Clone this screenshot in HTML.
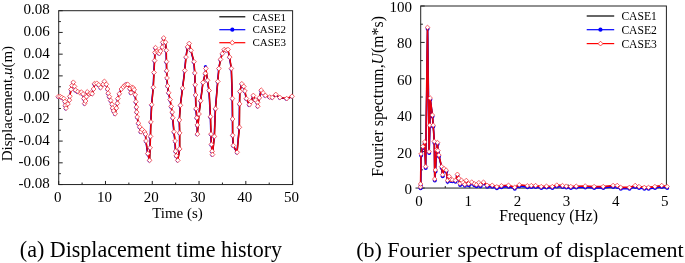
<!DOCTYPE html><html><head><meta charset="utf-8"><title>Figure</title>
<style>html,body{margin:0;padding:0;background:#fff}body{width:685px;height:263px;overflow:hidden}svg{display:block}text{font-family:'Liberation Serif', serif;fill:#000}</style></head><body>
<svg width="685" height="263" viewBox="0 0 685 263">
<rect width="685" height="263" fill="#fff"/>
<g fill="none" stroke="#222" stroke-width="1">
<rect x="58.7" y="10.7" width="233.90000000000003" height="173.85000000000002"/>
<path d="M58.7 10.70h4M58.7 21.57h2.2M58.7 32.43h4M58.7 43.30h2.2M58.7 54.16h4M58.7 65.03h2.2M58.7 75.89h4M58.7 86.76h2.2M58.7 97.63h4M58.7 108.49h2.2M58.7 119.36h4M58.7 130.22h2.2M58.7 141.09h4M58.7 151.95h2.2M58.7 162.82h4M58.7 173.68h2.2M58.7 184.55h4M58.70 184.55v-3.6M82.09 184.55v-2M105.48 184.55v-3.6M128.87 184.55v-2M152.26 184.55v-3.6M175.65 184.55v-2M199.04 184.55v-3.6M222.43 184.55v-2M245.82 184.55v-3.6M269.21 184.55v-2M292.60 184.55v-3.6"/></g>
<g font-size="15" text-anchor="end">
<text x="49.8" y="14.2">0.08</text>
<text x="49.8" y="35.9">0.06</text>
<text x="49.8" y="57.7">0.04</text>
<text x="49.8" y="79.4">0.02</text>
<text x="49.8" y="101.1">0.00</text>
<text x="49.8" y="122.9">-0.02</text>
<text x="49.8" y="144.6">-0.04</text>
<text x="49.8" y="166.3">-0.06</text>
<text x="49.8" y="188.1">-0.08</text>
</g>
<g font-size="15" text-anchor="middle">
<text x="57.7" y="202">0</text>
<text x="104.5" y="202">10</text>
<text x="151.3" y="202">20</text>
<text x="198.0" y="202">30</text>
<text x="244.8" y="202">40</text>
<text x="291.6" y="202">50</text>
<text x="177.5" y="218.3">Time (s)</text>
</g>
<text font-size="15" text-anchor="middle" transform="translate(12.1,103.6) rotate(-90)">Displacement,<tspan font-style="italic">u</tspan>(m)</text>
<polyline fill="none" stroke="#000" stroke-width="1.2" points="58.3,96.9 60.3,96.9 61.8,97.8 63.8,98.9 64.9,101.9 65.3,105.7 66.0,108.5 67.9,104.2 69.4,100.4 69.9,96.6 71.0,89.7 72.0,85.9 73.3,82.6 74.5,86.7 75.5,90.5 77.8,92.0 80.1,93.2 81.5,92.5 83.1,94.3 83.9,98.9 84.7,103.8 85.6,101.3 86.5,97.0 87.3,92.2 89.2,94.3 90.6,93.5 92.2,94.1 93.6,89.3 94.5,84.0 96.8,83.6 98.7,85.2 100.6,87.8 103.1,84.6 104.4,81.7 106.3,84.6 107.5,89.3 108.2,93.5 109.4,97.0 110.7,100.8 112.0,104.6 112.6,108.4 113.6,111.3 115.1,114.1 116.4,108.4 117.4,103.6 117.8,98.9 119.3,94.1 121.4,89.3 123.3,87.3 124.8,85.6 126.3,84.9 127.8,84.7 129.8,88.9 131.0,93.1 132.2,87.6 133.2,88.3 134.2,90.1 135.2,95.1 135.9,102.0 136.4,107.4 136.7,112.4 137.2,117.3 138.4,123.5 139.7,127.2 140.9,132.1 142.1,129.7 144.6,132.2 145.5,134.4 146.0,141.3 147.8,153.8 149.6,160.6 150.1,148.1 150.5,136.7 150.9,122.3 151.7,105.0 153.3,87.6 154.0,72.8 154.6,60.9 155.0,52.8 155.5,48.0 157.1,51.4 158.3,52.7 159.4,53.7 160.5,51.4 162.2,47.4 162.8,42.6 163.7,38.3 165.5,42.5 166.3,50.6 166.5,62.0 166.7,71.1 167.0,78.3 167.6,86.3 168.7,93.1 170.1,99.9 171.2,106.7 172.2,112.4 172.8,118.1 174.0,132.1 175.1,141.3 175.6,151.5 176.3,156.1 177.8,160.6 179.7,149.2 179.7,133.3 179.4,120.3 180.4,105.6 182.6,88.5 184.8,70.8 186.0,57.4 187.6,47.2 189.2,43.8 191.0,50.6 194.0,62.0 194.8,73.3 195.2,85.1 195.6,95.3 196.0,109.0 196.8,118.1 197.3,125.3 197.4,134.4 199.0,114.3 200.7,101.1 203.0,82.8 205.3,73.7 205.9,68.8 207.5,80.6 209.1,90.8 210.5,117.0 211.0,134.4 211.4,144.7 212.1,151.5 212.5,154.9 214.4,136.7 215.5,109.0 217.8,81.7 218.9,68.8 220.5,59.7 222.3,54.0 224.2,49.9 226.1,50.5 228.0,49.9 229.6,57.4 231.4,68.8 232.4,98.8 232.6,119.3 232.7,135.6 233.3,145.8 237.1,152.6 239.4,127.6 239.6,104.2 239.9,91.7 241.8,84.1 243.8,86.7 244.9,91.3 246.4,98.9 249.4,105.0 251.0,101.9 253.3,95.8 255.5,100.4 257.5,102.7 257.8,106.5 259.3,98.1 261.2,90.5 263.1,93.2 265.4,95.8 269.7,97.4 272.3,97.8 275.8,94.8 279.9,97.8 286.7,98.9 292.0,96.6"/>
<polyline fill="none" stroke="#00f" stroke-width="1.2" points="58.0,96.9 60.0,96.9 61.5,97.8 63.5,98.9 64.6,101.9 65.0,105.7 65.7,108.5 67.6,104.2 69.1,100.4 69.6,96.6 70.7,89.7 71.7,85.9 73.0,82.6 74.2,86.7 75.2,90.5 77.5,92.0 79.8,92.2 81.2,92.5 82.8,94.3 83.6,98.9 84.4,103.8 85.3,101.3 86.2,97.0 87.0,92.2 88.9,94.3 90.3,93.5 91.9,94.1 93.3,89.3 94.2,84.0 96.5,83.6 98.4,85.2 100.3,87.8 102.8,84.6 104.1,81.7 106.0,84.6 107.2,89.3 107.9,93.5 109.1,97.0 110.4,100.8 111.7,104.6 112.3,108.4 113.3,111.3 114.8,114.1 116.1,108.4 117.1,103.6 117.5,98.9 119.0,94.1 121.1,89.3 123.0,87.3 124.5,85.6 126.0,83.9 127.5,84.7 129.5,88.9 130.7,93.1 131.9,87.6 132.9,88.3 133.9,90.1 134.9,95.1 135.6,102.0 136.1,107.4 136.4,112.4 136.9,117.3 138.1,123.5 139.4,127.2 140.6,132.1 141.8,129.7 144.3,132.2 145.2,134.4 145.7,141.3 147.5,153.8 149.3,160.6 149.8,148.1 150.2,136.7 150.6,122.3 151.4,105.0 153.0,87.6 153.7,72.8 154.3,60.9 154.7,52.8 155.2,48.0 156.8,51.4 158.0,52.7 159.1,53.7 160.2,51.4 161.9,47.4 162.5,42.6 163.4,38.3 165.2,42.5 166.0,50.6 166.2,62.0 166.4,71.1 166.7,78.3 167.3,86.3 168.4,93.1 169.8,99.9 170.9,106.7 171.9,112.4 172.5,118.1 173.7,132.1 174.8,141.3 175.3,151.5 176.0,156.1 177.5,160.6 179.4,149.2 179.4,133.3 179.1,120.3 180.1,105.6 182.3,88.5 184.5,70.8 185.7,57.4 187.3,47.2 188.9,43.8 190.7,50.6 193.7,62.0 194.5,73.3 194.9,85.1 195.3,95.3 195.7,109.0 196.5,118.1 197.0,125.3 197.1,134.4 198.7,114.3 200.4,101.1 202.7,82.8 205.0,73.7 205.6,66.6 207.2,80.6 208.8,90.8 210.2,117.0 210.7,134.4 211.1,144.7 211.8,151.5 212.2,154.9 214.1,136.7 215.2,109.0 217.5,81.7 218.6,68.8 220.2,59.7 222.0,54.0 223.9,49.9 225.8,50.5 227.7,49.9 229.3,57.4 231.1,68.8 232.1,98.8 232.3,119.3 232.4,135.6 233.0,145.8 236.8,152.6 239.1,127.6 239.3,104.2 239.6,91.7 241.5,84.1 243.5,86.7 244.6,91.3 246.1,98.9 249.1,105.0 250.7,101.9 253.0,95.8 255.2,100.4 257.2,102.7 257.5,106.5 259.0,98.1 260.9,90.5 262.8,93.2 265.1,95.8 269.4,97.4 272.0,97.8 275.5,94.8 279.6,97.8 286.4,98.9 291.7,96.6"/>
<g fill="#00f"><circle cx="57.9" cy="97.1" r="1.7"/><circle cx="59.9" cy="97.1" r="1.7"/><circle cx="61.4" cy="98.0" r="1.7"/><circle cx="63.4" cy="99.1" r="1.7"/><circle cx="64.5" cy="102.1" r="1.7"/><circle cx="64.9" cy="105.9" r="1.7"/><circle cx="65.6" cy="108.7" r="1.7"/><circle cx="67.5" cy="104.4" r="1.7"/><circle cx="69.0" cy="100.6" r="1.7"/><circle cx="69.5" cy="96.8" r="1.7"/><circle cx="70.6" cy="89.9" r="1.7"/><circle cx="71.6" cy="86.1" r="1.7"/><circle cx="72.9" cy="82.8" r="1.7"/><circle cx="74.1" cy="86.9" r="1.7"/><circle cx="75.1" cy="90.7" r="1.7"/><circle cx="77.4" cy="92.2" r="1.7"/><circle cx="79.7" cy="92.4" r="1.7"/><circle cx="81.1" cy="92.7" r="1.7"/><circle cx="82.7" cy="94.5" r="1.7"/><circle cx="83.5" cy="99.1" r="1.7"/><circle cx="84.3" cy="104.0" r="1.7"/><circle cx="85.2" cy="101.5" r="1.7"/><circle cx="86.1" cy="97.2" r="1.7"/><circle cx="86.9" cy="92.4" r="1.7"/><circle cx="88.8" cy="94.5" r="1.7"/><circle cx="90.2" cy="93.7" r="1.7"/><circle cx="91.8" cy="94.3" r="1.7"/><circle cx="93.2" cy="89.5" r="1.7"/><circle cx="94.1" cy="84.2" r="1.7"/><circle cx="96.4" cy="83.8" r="1.7"/><circle cx="98.3" cy="85.4" r="1.7"/><circle cx="100.2" cy="88.0" r="1.7"/><circle cx="102.7" cy="84.8" r="1.7"/><circle cx="104.0" cy="81.9" r="1.7"/><circle cx="105.9" cy="84.8" r="1.7"/><circle cx="107.1" cy="89.5" r="1.7"/><circle cx="107.8" cy="93.7" r="1.7"/><circle cx="109.0" cy="97.2" r="1.7"/><circle cx="110.3" cy="101.0" r="1.7"/><circle cx="111.6" cy="104.8" r="1.7"/><circle cx="112.2" cy="108.6" r="1.7"/><circle cx="113.2" cy="111.5" r="1.7"/><circle cx="114.7" cy="114.3" r="1.7"/><circle cx="116.0" cy="108.6" r="1.7"/><circle cx="117.0" cy="103.8" r="1.7"/><circle cx="117.4" cy="99.1" r="1.7"/><circle cx="118.9" cy="94.3" r="1.7"/><circle cx="121.0" cy="89.5" r="1.7"/><circle cx="122.9" cy="87.5" r="1.7"/><circle cx="124.4" cy="85.8" r="1.7"/><circle cx="125.9" cy="84.1" r="1.7"/><circle cx="127.4" cy="84.9" r="1.7"/><circle cx="129.4" cy="89.1" r="1.7"/><circle cx="130.6" cy="93.3" r="1.7"/><circle cx="131.8" cy="87.8" r="1.7"/><circle cx="132.8" cy="88.5" r="1.7"/><circle cx="133.8" cy="90.3" r="1.7"/><circle cx="134.8" cy="95.3" r="1.7"/><circle cx="135.5" cy="102.2" r="1.7"/><circle cx="136.0" cy="107.6" r="1.7"/><circle cx="136.3" cy="112.6" r="1.7"/><circle cx="136.8" cy="117.5" r="1.7"/><circle cx="138.0" cy="123.7" r="1.7"/><circle cx="139.3" cy="127.4" r="1.7"/><circle cx="140.5" cy="132.3" r="1.7"/><circle cx="141.7" cy="129.9" r="1.7"/><circle cx="144.2" cy="132.4" r="1.7"/><circle cx="145.1" cy="134.6" r="1.7"/><circle cx="145.6" cy="141.5" r="1.7"/><circle cx="147.4" cy="154.0" r="1.7"/><circle cx="149.2" cy="160.8" r="1.7"/><circle cx="149.7" cy="148.3" r="1.7"/><circle cx="150.1" cy="136.9" r="1.7"/><circle cx="150.5" cy="122.5" r="1.7"/><circle cx="151.3" cy="105.2" r="1.7"/><circle cx="152.9" cy="87.8" r="1.7"/><circle cx="153.6" cy="73.0" r="1.7"/><circle cx="154.2" cy="61.1" r="1.7"/><circle cx="154.6" cy="53.0" r="1.7"/><circle cx="155.1" cy="48.2" r="1.7"/><circle cx="156.7" cy="51.6" r="1.7"/><circle cx="157.9" cy="52.9" r="1.7"/><circle cx="159.0" cy="53.9" r="1.7"/><circle cx="160.1" cy="51.6" r="1.7"/><circle cx="161.8" cy="47.6" r="1.7"/><circle cx="162.4" cy="42.8" r="1.7"/><circle cx="163.3" cy="38.5" r="1.7"/><circle cx="165.1" cy="42.7" r="1.7"/><circle cx="165.9" cy="50.8" r="1.7"/><circle cx="166.1" cy="62.2" r="1.7"/><circle cx="166.3" cy="71.3" r="1.7"/><circle cx="166.6" cy="78.5" r="1.7"/><circle cx="167.2" cy="86.5" r="1.7"/><circle cx="168.3" cy="93.3" r="1.7"/><circle cx="169.7" cy="100.1" r="1.7"/><circle cx="170.8" cy="106.9" r="1.7"/><circle cx="171.8" cy="112.6" r="1.7"/><circle cx="172.4" cy="118.3" r="1.7"/><circle cx="173.6" cy="132.3" r="1.7"/><circle cx="174.7" cy="141.5" r="1.7"/><circle cx="175.2" cy="151.7" r="1.7"/><circle cx="175.9" cy="156.3" r="1.7"/><circle cx="177.4" cy="160.8" r="1.7"/><circle cx="179.3" cy="149.4" r="1.7"/><circle cx="179.3" cy="133.5" r="1.7"/><circle cx="179.0" cy="120.5" r="1.7"/><circle cx="180.0" cy="105.8" r="1.7"/><circle cx="182.2" cy="88.7" r="1.7"/><circle cx="184.4" cy="71.0" r="1.7"/><circle cx="185.6" cy="57.6" r="1.7"/><circle cx="187.2" cy="47.4" r="1.7"/><circle cx="188.8" cy="44.0" r="1.7"/><circle cx="190.6" cy="50.8" r="1.7"/><circle cx="193.6" cy="62.2" r="1.7"/><circle cx="194.4" cy="73.5" r="1.7"/><circle cx="194.8" cy="85.3" r="1.7"/><circle cx="195.2" cy="95.5" r="1.7"/><circle cx="195.6" cy="109.2" r="1.7"/><circle cx="196.4" cy="118.3" r="1.7"/><circle cx="196.9" cy="125.5" r="1.7"/><circle cx="197.0" cy="134.6" r="1.7"/><circle cx="198.6" cy="114.5" r="1.7"/><circle cx="200.3" cy="101.3" r="1.7"/><circle cx="202.6" cy="83.0" r="1.7"/><circle cx="204.9" cy="73.9" r="1.7"/><circle cx="205.5" cy="66.8" r="1.7"/><circle cx="207.1" cy="80.8" r="1.7"/><circle cx="208.7" cy="91.0" r="1.7"/><circle cx="210.1" cy="117.2" r="1.7"/><circle cx="210.6" cy="134.6" r="1.7"/><circle cx="211.0" cy="144.9" r="1.7"/><circle cx="211.7" cy="151.7" r="1.7"/><circle cx="212.1" cy="155.1" r="1.7"/><circle cx="214.0" cy="136.9" r="1.7"/><circle cx="215.1" cy="109.2" r="1.7"/><circle cx="217.4" cy="81.9" r="1.7"/><circle cx="218.5" cy="69.0" r="1.7"/><circle cx="220.1" cy="59.9" r="1.7"/><circle cx="221.9" cy="54.2" r="1.7"/><circle cx="223.8" cy="50.1" r="1.7"/><circle cx="225.7" cy="50.7" r="1.7"/><circle cx="227.6" cy="50.1" r="1.7"/><circle cx="229.2" cy="57.6" r="1.7"/><circle cx="231.0" cy="69.0" r="1.7"/><circle cx="232.0" cy="99.0" r="1.7"/><circle cx="232.2" cy="119.5" r="1.7"/><circle cx="232.3" cy="135.8" r="1.7"/><circle cx="232.9" cy="146.0" r="1.7"/><circle cx="236.7" cy="152.8" r="1.7"/><circle cx="239.0" cy="127.8" r="1.7"/><circle cx="239.2" cy="104.4" r="1.7"/><circle cx="239.5" cy="91.9" r="1.7"/><circle cx="241.4" cy="84.3" r="1.7"/><circle cx="243.4" cy="86.9" r="1.7"/><circle cx="244.5" cy="91.5" r="1.7"/><circle cx="246.0" cy="99.1" r="1.7"/><circle cx="249.0" cy="105.2" r="1.7"/><circle cx="250.6" cy="102.1" r="1.7"/><circle cx="252.9" cy="96.0" r="1.7"/><circle cx="255.1" cy="100.6" r="1.7"/><circle cx="257.1" cy="102.9" r="1.7"/><circle cx="257.4" cy="106.7" r="1.7"/><circle cx="258.9" cy="98.3" r="1.7"/><circle cx="260.8" cy="90.7" r="1.7"/><circle cx="262.7" cy="93.4" r="1.7"/><circle cx="265.0" cy="96.0" r="1.7"/><circle cx="269.3" cy="97.6" r="1.7"/><circle cx="271.9" cy="98.0" r="1.7"/><circle cx="275.4" cy="95.0" r="1.7"/><circle cx="279.5" cy="98.0" r="1.7"/><circle cx="286.3" cy="99.1" r="1.7"/><circle cx="291.6" cy="96.8" r="1.7"/></g>
<polyline fill="none" stroke="#e8000d" stroke-width="1.5" stroke-linejoin="round" points="58.3,96.6 60.3,96.6 61.8,97.5 63.8,98.6 64.9,101.6 65.3,105.4 66.0,108.2 67.9,103.9 69.4,100.1 69.9,96.3 71.0,89.4 72.0,85.6 73.3,82.3 74.5,86.4 75.5,90.2 77.8,91.7 80.1,92.9 81.5,92.2 83.1,94.0 83.9,98.6 84.7,103.5 85.6,101.0 86.5,96.7 87.3,91.9 89.2,94.0 90.6,93.2 92.2,93.8 93.6,89.0 94.5,83.7 96.8,83.3 98.7,84.9 100.6,87.5 103.1,84.3 104.4,81.4 106.3,84.3 107.5,89.0 108.2,93.2 109.4,96.7 110.7,100.5 112.0,104.3 112.6,108.1 113.6,111.0 115.1,113.8 116.4,108.1 117.4,103.3 117.8,98.6 119.3,93.8 121.4,89.0 123.3,87.0 124.8,85.3 126.3,84.6 127.8,84.4 129.8,88.6 131.0,92.8 132.2,87.3 133.2,88.0 134.2,89.8 135.2,94.8 135.9,101.7 136.4,107.1 136.7,112.1 137.2,117.0 138.4,123.2 139.7,126.9 140.9,131.8 142.1,129.4 144.6,131.9 145.5,134.1 146.0,141.0 147.8,153.5 149.6,160.3 150.1,147.8 150.5,136.4 150.9,122.0 151.7,104.7 153.3,87.3 154.0,72.5 154.6,60.6 155.0,52.5 155.5,47.7 157.1,51.1 158.3,52.4 159.4,53.4 160.5,51.1 162.2,47.1 162.8,42.3 163.7,38.0 165.5,42.2 166.3,50.3 166.5,61.7 166.7,70.8 167.0,78.0 167.6,86.0 168.7,92.8 170.1,99.6 171.2,106.4 172.2,112.1 172.8,117.8 174.0,131.8 175.1,141.0 175.6,151.2 176.3,155.8 177.8,160.3 179.7,148.9 179.7,133.0 179.4,120.0 180.4,105.3 182.6,88.2 184.8,70.5 186.0,57.1 187.6,46.9 189.2,43.5 191.0,50.3 194.0,61.7 194.8,73.0 195.2,84.8 195.6,95.0 196.0,108.7 196.8,117.8 197.3,125.0 197.4,134.1 199.0,114.0 200.7,100.8 203.0,82.5 205.3,73.4 205.9,68.5 207.5,80.3 209.1,90.5 210.5,116.7 211.0,134.1 211.4,144.4 212.1,151.2 212.5,154.6 214.4,136.4 215.5,108.7 217.8,81.4 218.9,68.5 220.5,59.4 222.3,53.7 224.2,49.6 226.1,50.2 228.0,49.6 229.6,57.1 231.4,68.5 232.4,98.5 232.6,119.0 232.7,135.3 233.3,145.5 237.1,152.3 239.4,127.3 239.6,103.9 239.9,91.4 241.8,83.8 243.8,86.4 244.9,91.0 246.4,98.6 249.4,104.7 251.0,101.6 253.3,95.5 255.5,100.1 257.5,102.4 257.8,106.2 259.3,97.8 261.2,90.2 263.1,92.9 265.4,95.5 269.7,97.1 272.3,97.5 275.8,94.5 279.9,97.5 286.7,98.6 292.0,96.3"/>
<g fill="#fff" stroke="#f0141e" stroke-width="0.65"><path d="M58.3 94.2L60.7 96.6L58.3 99.0L55.9 96.6Z"/><path d="M60.3 94.2L62.7 96.6L60.3 99.0L57.9 96.6Z"/><path d="M61.8 95.1L64.2 97.5L61.8 99.9L59.4 97.5Z"/><path d="M63.8 96.2L66.2 98.6L63.8 101.0L61.4 98.6Z"/><path d="M64.9 99.2L67.3 101.6L64.9 104.0L62.5 101.6Z"/><path d="M65.3 103.0L67.7 105.4L65.3 107.8L62.9 105.4Z"/><path d="M66.0 105.8L68.4 108.2L66.0 110.6L63.6 108.2Z"/><path d="M67.9 101.5L70.3 103.9L67.9 106.3L65.5 103.9Z"/><path d="M69.4 97.7L71.8 100.1L69.4 102.5L67.0 100.1Z"/><path d="M69.9 93.9L72.3 96.3L69.9 98.7L67.5 96.3Z"/><path d="M71.0 87.0L73.4 89.4L71.0 91.8L68.6 89.4Z"/><path d="M72.0 83.2L74.4 85.6L72.0 88.0L69.6 85.6Z"/><path d="M73.3 79.9L75.7 82.3L73.3 84.7L70.9 82.3Z"/><path d="M74.5 84.0L76.9 86.4L74.5 88.8L72.1 86.4Z"/><path d="M75.5 87.8L77.9 90.2L75.5 92.6L73.1 90.2Z"/><path d="M77.8 89.3L80.2 91.7L77.8 94.1L75.4 91.7Z"/><path d="M80.1 90.5L82.5 92.9L80.1 95.3L77.7 92.9Z"/><path d="M81.5 89.8L83.9 92.2L81.5 94.6L79.1 92.2Z"/><path d="M83.1 91.6L85.5 94.0L83.1 96.4L80.7 94.0Z"/><path d="M83.9 96.2L86.3 98.6L83.9 101.0L81.5 98.6Z"/><path d="M84.7 101.1L87.1 103.5L84.7 105.9L82.3 103.5Z"/><path d="M85.6 98.6L88.0 101.0L85.6 103.4L83.2 101.0Z"/><path d="M86.5 94.3L88.9 96.7L86.5 99.1L84.1 96.7Z"/><path d="M87.3 89.5L89.7 91.9L87.3 94.3L84.9 91.9Z"/><path d="M89.2 91.6L91.6 94.0L89.2 96.4L86.8 94.0Z"/><path d="M90.6 90.8L93.0 93.2L90.6 95.6L88.2 93.2Z"/><path d="M92.2 91.4L94.6 93.8L92.2 96.2L89.8 93.8Z"/><path d="M93.6 86.6L96.0 89.0L93.6 91.4L91.2 89.0Z"/><path d="M94.5 81.3L96.9 83.7L94.5 86.1L92.1 83.7Z"/><path d="M96.8 80.9L99.2 83.3L96.8 85.7L94.4 83.3Z"/><path d="M98.7 82.5L101.1 84.9L98.7 87.3L96.3 84.9Z"/><path d="M100.6 85.1L103.0 87.5L100.6 89.9L98.2 87.5Z"/><path d="M103.1 81.9L105.5 84.3L103.1 86.7L100.7 84.3Z"/><path d="M104.4 79.0L106.8 81.4L104.4 83.8L102.0 81.4Z"/><path d="M106.3 81.9L108.7 84.3L106.3 86.7L103.9 84.3Z"/><path d="M107.5 86.6L109.9 89.0L107.5 91.4L105.1 89.0Z"/><path d="M108.2 90.8L110.6 93.2L108.2 95.6L105.8 93.2Z"/><path d="M109.4 94.3L111.8 96.7L109.4 99.1L107.0 96.7Z"/><path d="M110.7 98.1L113.1 100.5L110.7 102.9L108.3 100.5Z"/><path d="M112.0 101.9L114.4 104.3L112.0 106.7L109.6 104.3Z"/><path d="M112.6 105.7L115.0 108.1L112.6 110.5L110.2 108.1Z"/><path d="M113.6 108.6L116.0 111.0L113.6 113.4L111.2 111.0Z"/><path d="M115.1 111.4L117.5 113.8L115.1 116.2L112.7 113.8Z"/><path d="M116.4 105.7L118.8 108.1L116.4 110.5L114.0 108.1Z"/><path d="M117.4 100.9L119.8 103.3L117.4 105.7L115.0 103.3Z"/><path d="M117.8 96.2L120.2 98.6L117.8 101.0L115.4 98.6Z"/><path d="M119.3 91.4L121.7 93.8L119.3 96.2L116.9 93.8Z"/><path d="M121.4 86.6L123.8 89.0L121.4 91.4L119.0 89.0Z"/><path d="M123.3 84.6L125.7 87.0L123.3 89.4L120.9 87.0Z"/><path d="M124.8 82.9L127.2 85.3L124.8 87.7L122.4 85.3Z"/><path d="M126.3 82.2L128.7 84.6L126.3 87.0L123.9 84.6Z"/><path d="M127.8 82.0L130.2 84.4L127.8 86.8L125.4 84.4Z"/><path d="M129.8 86.2L132.2 88.6L129.8 91.0L127.4 88.6Z"/><path d="M131.0 90.4L133.4 92.8L131.0 95.2L128.6 92.8Z"/><path d="M132.2 84.9L134.6 87.3L132.2 89.7L129.8 87.3Z"/><path d="M133.2 85.6L135.6 88.0L133.2 90.4L130.8 88.0Z"/><path d="M134.2 87.4L136.6 89.8L134.2 92.2L131.8 89.8Z"/><path d="M135.2 92.4L137.6 94.8L135.2 97.2L132.8 94.8Z"/><path d="M135.9 99.3L138.3 101.7L135.9 104.1L133.5 101.7Z"/><path d="M136.4 104.7L138.8 107.1L136.4 109.5L134.0 107.1Z"/><path d="M136.7 109.7L139.1 112.1L136.7 114.5L134.3 112.1Z"/><path d="M137.2 114.6L139.6 117.0L137.2 119.4L134.8 117.0Z"/><path d="M138.4 120.8L140.8 123.2L138.4 125.6L136.0 123.2Z"/><path d="M139.7 124.5L142.1 126.9L139.7 129.3L137.3 126.9Z"/><path d="M140.9 129.4L143.3 131.8L140.9 134.2L138.5 131.8Z"/><path d="M142.1 127.0L144.5 129.4L142.1 131.8L139.7 129.4Z"/><path d="M144.6 129.5L147.0 131.9L144.6 134.3L142.2 131.9Z"/><path d="M145.5 131.7L147.9 134.1L145.5 136.5L143.1 134.1Z"/><path d="M146.0 138.6L148.4 141.0L146.0 143.4L143.6 141.0Z"/><path d="M147.8 151.1L150.2 153.5L147.8 155.9L145.4 153.5Z"/><path d="M149.6 157.9L152.0 160.3L149.6 162.7L147.2 160.3Z"/><path d="M150.1 145.4L152.5 147.8L150.1 150.2L147.7 147.8Z"/><path d="M150.5 134.0L152.9 136.4L150.5 138.8L148.1 136.4Z"/><path d="M150.9 119.6L153.3 122.0L150.9 124.4L148.5 122.0Z"/><path d="M151.7 102.3L154.1 104.7L151.7 107.1L149.3 104.7Z"/><path d="M153.3 84.9L155.7 87.3L153.3 89.7L150.9 87.3Z"/><path d="M154.0 70.1L156.4 72.5L154.0 74.9L151.6 72.5Z"/><path d="M154.6 58.2L157.0 60.6L154.6 63.0L152.2 60.6Z"/><path d="M155.0 50.1L157.4 52.5L155.0 54.9L152.6 52.5Z"/><path d="M155.5 45.3L157.9 47.7L155.5 50.1L153.1 47.7Z"/><path d="M157.1 48.7L159.5 51.1L157.1 53.5L154.7 51.1Z"/><path d="M158.3 50.0L160.7 52.4L158.3 54.8L155.9 52.4Z"/><path d="M159.4 51.0L161.8 53.4L159.4 55.8L157.0 53.4Z"/><path d="M160.5 48.7L162.9 51.1L160.5 53.5L158.1 51.1Z"/><path d="M162.2 44.7L164.6 47.1L162.2 49.5L159.8 47.1Z"/><path d="M162.8 39.9L165.2 42.3L162.8 44.7L160.4 42.3Z"/><path d="M163.7 35.6L166.1 38.0L163.7 40.4L161.3 38.0Z"/><path d="M165.5 39.8L167.9 42.2L165.5 44.6L163.1 42.2Z"/><path d="M166.3 47.9L168.7 50.3L166.3 52.7L163.9 50.3Z"/><path d="M166.5 59.3L168.9 61.7L166.5 64.1L164.1 61.7Z"/><path d="M166.7 68.4L169.1 70.8L166.7 73.2L164.3 70.8Z"/><path d="M167.0 75.6L169.4 78.0L167.0 80.4L164.6 78.0Z"/><path d="M167.6 83.6L170.0 86.0L167.6 88.4L165.2 86.0Z"/><path d="M168.7 90.4L171.1 92.8L168.7 95.2L166.3 92.8Z"/><path d="M170.1 97.2L172.5 99.6L170.1 102.0L167.7 99.6Z"/><path d="M171.2 104.0L173.6 106.4L171.2 108.8L168.8 106.4Z"/><path d="M172.2 109.7L174.6 112.1L172.2 114.5L169.8 112.1Z"/><path d="M172.8 115.4L175.2 117.8L172.8 120.2L170.4 117.8Z"/><path d="M174.0 129.4L176.4 131.8L174.0 134.2L171.6 131.8Z"/><path d="M175.1 138.6L177.5 141.0L175.1 143.4L172.7 141.0Z"/><path d="M175.6 148.8L178.0 151.2L175.6 153.6L173.2 151.2Z"/><path d="M176.3 153.4L178.7 155.8L176.3 158.2L173.9 155.8Z"/><path d="M177.8 157.9L180.2 160.3L177.8 162.7L175.4 160.3Z"/><path d="M179.7 146.5L182.1 148.9L179.7 151.3L177.3 148.9Z"/><path d="M179.7 130.6L182.1 133.0L179.7 135.4L177.3 133.0Z"/><path d="M179.4 117.6L181.8 120.0L179.4 122.4L177.0 120.0Z"/><path d="M180.4 102.9L182.8 105.3L180.4 107.7L178.0 105.3Z"/><path d="M182.6 85.8L185.0 88.2L182.6 90.6L180.2 88.2Z"/><path d="M184.8 68.1L187.2 70.5L184.8 72.9L182.4 70.5Z"/><path d="M186.0 54.7L188.4 57.1L186.0 59.5L183.6 57.1Z"/><path d="M187.6 44.5L190.0 46.9L187.6 49.3L185.2 46.9Z"/><path d="M189.2 41.1L191.6 43.5L189.2 45.9L186.8 43.5Z"/><path d="M191.0 47.9L193.4 50.3L191.0 52.7L188.6 50.3Z"/><path d="M194.0 59.3L196.4 61.7L194.0 64.1L191.6 61.7Z"/><path d="M194.8 70.6L197.2 73.0L194.8 75.4L192.4 73.0Z"/><path d="M195.2 82.4L197.6 84.8L195.2 87.2L192.8 84.8Z"/><path d="M195.6 92.6L198.0 95.0L195.6 97.4L193.2 95.0Z"/><path d="M196.0 106.3L198.4 108.7L196.0 111.1L193.6 108.7Z"/><path d="M196.8 115.4L199.2 117.8L196.8 120.2L194.4 117.8Z"/><path d="M197.3 122.6L199.7 125.0L197.3 127.4L194.9 125.0Z"/><path d="M197.4 131.7L199.8 134.1L197.4 136.5L195.0 134.1Z"/><path d="M199.0 111.6L201.4 114.0L199.0 116.4L196.6 114.0Z"/><path d="M200.7 98.4L203.1 100.8L200.7 103.2L198.3 100.8Z"/><path d="M203.0 80.1L205.4 82.5L203.0 84.9L200.6 82.5Z"/><path d="M205.3 71.0L207.7 73.4L205.3 75.8L202.9 73.4Z"/><path d="M205.9 66.1L208.3 68.5L205.9 70.9L203.5 68.5Z"/><path d="M207.5 77.9L209.9 80.3L207.5 82.7L205.1 80.3Z"/><path d="M209.1 88.1L211.5 90.5L209.1 92.9L206.7 90.5Z"/><path d="M210.5 114.3L212.9 116.7L210.5 119.1L208.1 116.7Z"/><path d="M211.0 131.7L213.4 134.1L211.0 136.5L208.6 134.1Z"/><path d="M211.4 142.0L213.8 144.4L211.4 146.8L209.0 144.4Z"/><path d="M212.1 148.8L214.5 151.2L212.1 153.6L209.7 151.2Z"/><path d="M212.5 152.2L214.9 154.6L212.5 157.0L210.1 154.6Z"/><path d="M214.4 134.0L216.8 136.4L214.4 138.8L212.0 136.4Z"/><path d="M215.5 106.3L217.9 108.7L215.5 111.1L213.1 108.7Z"/><path d="M217.8 79.0L220.2 81.4L217.8 83.8L215.4 81.4Z"/><path d="M218.9 66.1L221.3 68.5L218.9 70.9L216.5 68.5Z"/><path d="M220.5 57.0L222.9 59.4L220.5 61.8L218.1 59.4Z"/><path d="M222.3 51.3L224.7 53.7L222.3 56.1L219.9 53.7Z"/><path d="M224.2 47.2L226.6 49.6L224.2 52.0L221.8 49.6Z"/><path d="M226.1 47.8L228.5 50.2L226.1 52.6L223.7 50.2Z"/><path d="M228.0 47.2L230.4 49.6L228.0 52.0L225.6 49.6Z"/><path d="M229.6 54.7L232.0 57.1L229.6 59.5L227.2 57.1Z"/><path d="M231.4 66.1L233.8 68.5L231.4 70.9L229.0 68.5Z"/><path d="M232.4 96.1L234.8 98.5L232.4 100.9L230.0 98.5Z"/><path d="M232.6 116.6L235.0 119.0L232.6 121.4L230.2 119.0Z"/><path d="M232.7 132.9L235.1 135.3L232.7 137.7L230.3 135.3Z"/><path d="M233.3 143.1L235.7 145.5L233.3 147.9L230.9 145.5Z"/><path d="M237.1 149.9L239.5 152.3L237.1 154.7L234.7 152.3Z"/><path d="M239.4 124.9L241.8 127.3L239.4 129.7L237.0 127.3Z"/><path d="M239.6 101.5L242.0 103.9L239.6 106.3L237.2 103.9Z"/><path d="M239.9 89.0L242.3 91.4L239.9 93.8L237.5 91.4Z"/><path d="M241.8 81.4L244.2 83.8L241.8 86.2L239.4 83.8Z"/><path d="M243.8 84.0L246.2 86.4L243.8 88.8L241.4 86.4Z"/><path d="M244.9 88.6L247.3 91.0L244.9 93.4L242.5 91.0Z"/><path d="M246.4 96.2L248.8 98.6L246.4 101.0L244.0 98.6Z"/><path d="M249.4 102.3L251.8 104.7L249.4 107.1L247.0 104.7Z"/><path d="M251.0 99.2L253.4 101.6L251.0 104.0L248.6 101.6Z"/><path d="M253.3 93.1L255.7 95.5L253.3 97.9L250.9 95.5Z"/><path d="M255.5 97.7L257.9 100.1L255.5 102.5L253.1 100.1Z"/><path d="M257.5 100.0L259.9 102.4L257.5 104.8L255.1 102.4Z"/><path d="M257.8 103.8L260.2 106.2L257.8 108.6L255.4 106.2Z"/><path d="M259.3 95.4L261.7 97.8L259.3 100.2L256.9 97.8Z"/><path d="M261.2 87.8L263.6 90.2L261.2 92.6L258.8 90.2Z"/><path d="M263.1 90.5L265.5 92.9L263.1 95.3L260.7 92.9Z"/><path d="M265.4 93.1L267.8 95.5L265.4 97.9L263.0 95.5Z"/><path d="M269.7 94.7L272.1 97.1L269.7 99.5L267.3 97.1Z"/><path d="M272.3 95.1L274.7 97.5L272.3 99.9L269.9 97.5Z"/><path d="M275.8 92.1L278.2 94.5L275.8 96.9L273.4 94.5Z"/><path d="M279.9 95.1L282.3 97.5L279.9 99.9L277.5 97.5Z"/><path d="M286.7 96.2L289.1 98.6L286.7 101.0L284.3 98.6Z"/><path d="M292.0 93.9L294.4 96.3L292.0 98.7L289.6 96.3Z"/></g>
<g stroke-width="1.2" fill="none"><path d="M219.3 16.8H245.3" stroke="#000"/><path d="M219.3 29.7H245.3" stroke="#00f"/><path d="M219.3 42.7H245.3" stroke="#f00"/></g>
<circle cx="232.3" cy="29.7" r="2.1" fill="#00f"/>
<g fill="#fff" stroke="#f00" stroke-width="0.7"><path d="M232.3 40.3L234.7 42.7L232.3 45.1L229.9 42.7Z"/></g>
<g font-size="11">
<text x="252.4" y="20.5">CASE1</text>
<text x="252.4" y="33.4">CASE2</text>
<text x="252.4" y="46.4">CASE3</text>
</g>
<g fill="none" stroke="#222" stroke-width="1">
<rect x="420.7" y="6.0" width="245.7" height="182.05"/>
<path d="M420.7 6.00h4M420.7 24.21h2.2M420.7 42.41h4M420.7 60.62h2.2M420.7 78.82h4M420.7 97.03h2.2M420.7 115.23h4M420.7 133.44h2.2M420.7 151.64h4M420.7 169.84h2.2M420.7 188.05h4M420.70 188.05v-3.6M445.27 188.05v-2M469.84 188.05v-3.6M494.41 188.05v-2M518.98 188.05v-3.6M543.55 188.05v-2M568.12 188.05v-3.6M592.69 188.05v-2M617.26 188.05v-3.6M641.83 188.05v-2M666.40 188.05v-3.6M415.5 188.05H420.7"/></g>
<g font-size="15" text-anchor="end">
<text x="411.9" y="11.9">100</text>
<text x="411.9" y="48.3">80</text>
<text x="411.9" y="84.7">60</text>
<text x="411.9" y="121.1">40</text>
<text x="411.9" y="157.5">20</text>
<text x="411.9" y="194.0">0</text>
</g>
<g font-size="15" text-anchor="middle">
<text x="419.1" y="205.8">0</text>
<text x="468.2" y="205.8">1</text>
<text x="517.4" y="205.8">2</text>
<text x="566.5" y="205.8">3</text>
<text x="615.7" y="205.8">4</text>
<text x="664.8" y="205.8">5</text>
<text x="548.6" y="220.5" font-size="15.7">Frequency (Hz)</text>
</g>
<text font-size="15.8" text-anchor="middle" transform="translate(383.3,96.4) rotate(-90)">Fourier spectrum,<tspan font-style="italic">U</tspan>(m*s)</text>
<polyline fill="none" stroke="#000" stroke-width="1.2" points="420.5,187.7 420.6,184.8 421.0,154.8 422.9,147.3 424.7,142.7 425.6,167.4 427.5,28.2 429.1,152.5 429.8,126.0 430.2,98.9 432.4,115.9 433.2,126.0 434.3,142.2 434.7,179.9 435.4,170.8 436.5,150.8 437.5,143.4 437.9,151.4 438.9,155.9 441.6,167.4 442.6,175.6 444.1,169.5 446.2,171.0 447.5,181.2 449.2,177.2 450.8,180.4 452.3,180.7 455.4,181.2 457.4,175.1 458.9,179.2 460.0,184.3 461.5,181.1 463.2,183.3 464.8,185.2 466.3,181.3 468.6,184.6 471.7,182.9 474.3,184.6 476.4,185.6 478.9,183.5 480.4,185.6 483.5,183.0 487.1,186.1 492.2,186.1 496.8,187.6 501.4,186.6 508.5,186.1 514.7,188.1 519.3,185.6 527.4,186.6 531.3,186.4 535.6,186.4 541.2,187.4 546.5,187.0 552.3,187.4 556.8,185.9 562.5,186.4 566.3,187.0 570.8,187.4 576.2,187.0 585.2,186.8 594.1,187.4 603.2,187.4 613.1,186.3 617.2,186.3 620.7,188.2 629.4,188.2 635.2,186.3 639.0,187.4 644.3,188.2 648.5,188.2 654.9,187.4 661.7,186.3 667.1,187.4"/>
<polyline fill="none" stroke="#00f" stroke-width="1.6" points="420.6,188.2 420.7,185.3 421.1,155.3 423.0,147.8 424.8,143.2 425.7,167.9 427.6,28.7 429.2,153.0 429.9,126.5 430.3,99.4 432.5,116.4 433.3,126.5 434.4,142.7 434.8,180.4 435.5,171.3 436.6,151.3 437.6,143.9 438.0,151.9 439.0,156.4 441.7,167.9 442.7,176.1 444.2,170.0 446.3,171.5 447.6,181.7 449.3,177.7 450.9,180.9 452.4,181.2 455.5,181.7 457.5,175.6 459.0,179.7 460.1,184.8 461.6,181.6 463.3,183.8 464.9,185.7 466.4,181.8 468.7,185.1 471.8,183.4 474.4,185.1 476.5,186.1 479.0,184.0 480.5,186.1 483.6,183.5 487.2,186.6 492.3,186.6 496.9,188.1 501.5,187.1 508.6,186.6 514.8,188.6 519.4,186.1 527.5,187.1 531.4,186.9 535.7,186.9 541.3,187.9 546.6,187.5 552.4,187.9 556.9,186.4 562.6,186.9 566.4,187.5 570.9,187.9 576.3,187.5 585.3,187.3 594.2,187.9 603.3,187.9 613.2,186.8 617.3,186.8 620.8,188.7 629.5,188.7 635.3,186.8 639.1,187.9 644.4,188.7 648.6,188.7 655.0,187.9 661.8,186.8 667.2,187.9"/>
<g fill="#00f"><circle cx="420.6" cy="188.3" r="2.0"/><circle cx="420.7" cy="185.4" r="2.0"/><circle cx="421.1" cy="155.4" r="2.0"/><circle cx="423.0" cy="147.9" r="2.0"/><circle cx="424.8" cy="143.3" r="2.0"/><circle cx="425.7" cy="168.0" r="2.0"/><circle cx="427.6" cy="28.8" r="2.0"/><circle cx="429.2" cy="153.1" r="2.0"/><circle cx="429.9" cy="126.6" r="2.0"/><circle cx="430.3" cy="99.5" r="2.0"/><circle cx="432.5" cy="116.5" r="2.0"/><circle cx="433.3" cy="126.6" r="2.0"/><circle cx="434.4" cy="142.8" r="2.0"/><circle cx="434.8" cy="180.5" r="2.0"/><circle cx="435.5" cy="171.4" r="2.0"/><circle cx="436.6" cy="151.4" r="2.0"/><circle cx="437.6" cy="144.0" r="2.0"/><circle cx="438.0" cy="152.0" r="2.0"/><circle cx="439.0" cy="156.5" r="2.0"/><circle cx="441.7" cy="168.0" r="2.0"/><circle cx="442.7" cy="176.2" r="2.0"/><circle cx="444.2" cy="170.1" r="2.0"/><circle cx="446.3" cy="171.6" r="2.0"/><circle cx="447.6" cy="181.8" r="2.0"/><circle cx="449.3" cy="177.8" r="2.0"/><circle cx="450.9" cy="181.0" r="2.0"/><circle cx="452.4" cy="181.3" r="2.0"/><circle cx="455.5" cy="181.8" r="2.0"/><circle cx="457.5" cy="175.7" r="2.0"/><circle cx="459.0" cy="179.8" r="2.0"/><circle cx="460.1" cy="184.9" r="2.0"/><circle cx="461.6" cy="181.7" r="2.0"/><circle cx="463.3" cy="183.9" r="2.0"/><circle cx="464.9" cy="185.8" r="2.0"/><circle cx="466.4" cy="181.9" r="2.0"/><circle cx="468.7" cy="185.2" r="2.0"/><circle cx="471.8" cy="183.5" r="2.0"/><circle cx="474.4" cy="185.2" r="2.0"/><circle cx="476.5" cy="186.2" r="2.0"/><circle cx="479.0" cy="184.1" r="2.0"/><circle cx="480.5" cy="186.2" r="2.0"/><circle cx="483.6" cy="183.6" r="2.0"/><circle cx="487.2" cy="186.7" r="2.0"/><circle cx="492.3" cy="186.7" r="2.0"/><circle cx="496.9" cy="188.2" r="2.0"/><circle cx="501.5" cy="187.2" r="2.0"/><circle cx="508.6" cy="186.7" r="2.0"/><circle cx="514.8" cy="188.7" r="2.0"/><circle cx="519.4" cy="186.2" r="2.0"/><circle cx="527.5" cy="187.2" r="2.0"/><circle cx="531.4" cy="187.0" r="2.0"/><circle cx="535.7" cy="187.0" r="2.0"/><circle cx="541.3" cy="188.0" r="2.0"/><circle cx="546.6" cy="187.6" r="2.0"/><circle cx="552.4" cy="188.0" r="2.0"/><circle cx="556.9" cy="186.5" r="2.0"/><circle cx="562.6" cy="187.0" r="2.0"/><circle cx="566.4" cy="187.6" r="2.0"/><circle cx="570.9" cy="188.0" r="2.0"/><circle cx="576.3" cy="187.6" r="2.0"/><circle cx="585.3" cy="187.4" r="2.0"/><circle cx="594.2" cy="188.0" r="2.0"/><circle cx="603.3" cy="188.0" r="2.0"/><circle cx="613.2" cy="186.9" r="2.0"/><circle cx="617.3" cy="186.9" r="2.0"/><circle cx="620.8" cy="188.8" r="2.0"/><circle cx="629.5" cy="188.8" r="2.0"/><circle cx="635.3" cy="186.9" r="2.0"/><circle cx="639.1" cy="188.0" r="2.0"/><circle cx="644.4" cy="188.8" r="2.0"/><circle cx="648.6" cy="188.8" r="2.0"/><circle cx="655.0" cy="188.0" r="2.0"/><circle cx="661.8" cy="186.9" r="2.0"/><circle cx="667.2" cy="188.0" r="2.0"/></g>
<polyline fill="none" stroke="#e8000d" stroke-width="1.6" stroke-linejoin="round" points="420.5,186.9 420.6,184.0 421.0,154.0 422.9,146.5 424.7,141.9 425.6,166.6 427.5,27.4 429.1,151.7 429.8,125.2 430.2,98.1 432.4,115.1 433.2,125.2 434.3,141.4 434.7,179.1 435.4,170.0 436.5,150.0 437.5,142.6 437.9,150.6 438.9,155.1 441.6,166.6 442.6,174.8 444.1,168.7 446.2,170.2 447.5,180.4 449.2,176.4 450.8,179.6 452.3,179.9 455.4,180.4 457.4,174.3 458.9,178.4 460.0,183.5 461.5,180.3 463.2,182.5 464.8,184.4 466.3,180.5 468.6,183.8 471.7,182.1 474.3,183.8 476.4,184.8 478.9,182.7 480.4,184.8 483.5,182.2 487.1,185.3 492.2,185.3 496.8,186.8 501.4,185.8 508.5,185.3 514.7,187.3 519.3,184.8 527.4,185.8 531.3,185.6 535.6,185.6 541.2,186.6 546.5,186.2 552.3,186.6 556.8,185.1 562.5,185.6 566.3,186.2 570.8,186.6 576.2,186.2 585.2,186.0 594.1,186.6 603.2,186.6 613.1,185.5 617.2,185.5 620.7,187.4 629.4,187.4 635.2,185.5 639.0,186.6 644.3,187.4 648.5,187.4 654.9,186.6 661.7,185.5 667.1,186.6"/>
<g fill="#fff" stroke="#f0141e" stroke-width="0.65"><path d="M420.5 184.6L422.8 186.9L420.5 189.2L418.2 186.9Z"/><path d="M420.6 181.7L422.9 184.0L420.6 186.3L418.3 184.0Z"/><path d="M421.0 151.7L423.3 154.0L421.0 156.3L418.7 154.0Z"/><path d="M422.9 144.2L425.2 146.5L422.9 148.8L420.6 146.5Z"/><path d="M424.7 139.6L427.0 141.9L424.7 144.2L422.4 141.9Z"/><path d="M425.6 164.3L427.9 166.6L425.6 168.9L423.3 166.6Z"/><path d="M427.5 25.1L429.8 27.4L427.5 29.7L425.2 27.4Z"/><path d="M429.1 149.4L431.4 151.7L429.1 154.0L426.8 151.7Z"/><path d="M429.8 122.9L432.1 125.2L429.8 127.5L427.5 125.2Z"/><path d="M430.2 95.8L432.5 98.1L430.2 100.4L427.9 98.1Z"/><path d="M432.4 112.8L434.7 115.1L432.4 117.4L430.1 115.1Z"/><path d="M433.2 122.9L435.5 125.2L433.2 127.5L430.9 125.2Z"/><path d="M434.3 139.1L436.6 141.4L434.3 143.7L432.0 141.4Z"/><path d="M434.7 176.8L437.0 179.1L434.7 181.4L432.4 179.1Z"/><path d="M435.4 167.7L437.7 170.0L435.4 172.3L433.1 170.0Z"/><path d="M436.5 147.7L438.8 150.0L436.5 152.3L434.2 150.0Z"/><path d="M437.5 140.3L439.8 142.6L437.5 144.9L435.2 142.6Z"/><path d="M437.9 148.3L440.2 150.6L437.9 152.9L435.6 150.6Z"/><path d="M438.9 152.8L441.2 155.1L438.9 157.4L436.6 155.1Z"/><path d="M441.6 164.3L443.9 166.6L441.6 168.9L439.3 166.6Z"/><path d="M442.6 172.5L444.9 174.8L442.6 177.1L440.3 174.8Z"/><path d="M444.1 166.4L446.4 168.7L444.1 171.0L441.8 168.7Z"/><path d="M446.2 167.9L448.5 170.2L446.2 172.5L443.9 170.2Z"/><path d="M447.5 178.1L449.8 180.4L447.5 182.7L445.2 180.4Z"/><path d="M449.2 174.1L451.5 176.4L449.2 178.7L446.9 176.4Z"/><path d="M450.8 177.3L453.1 179.6L450.8 181.9L448.5 179.6Z"/><path d="M452.3 177.6L454.6 179.9L452.3 182.2L450.0 179.9Z"/><path d="M455.4 178.1L457.7 180.4L455.4 182.7L453.1 180.4Z"/><path d="M457.4 172.0L459.7 174.3L457.4 176.6L455.1 174.3Z"/><path d="M458.9 176.1L461.2 178.4L458.9 180.7L456.6 178.4Z"/><path d="M460.0 181.2L462.3 183.5L460.0 185.8L457.7 183.5Z"/><path d="M461.5 178.0L463.8 180.3L461.5 182.6L459.2 180.3Z"/><path d="M463.2 180.2L465.5 182.5L463.2 184.8L460.9 182.5Z"/><path d="M464.8 182.1L467.1 184.4L464.8 186.7L462.5 184.4Z"/><path d="M466.3 178.2L468.6 180.5L466.3 182.8L464.0 180.5Z"/><path d="M468.6 181.5L470.9 183.8L468.6 186.1L466.3 183.8Z"/><path d="M471.7 179.8L474.0 182.1L471.7 184.4L469.4 182.1Z"/><path d="M474.3 181.5L476.6 183.8L474.3 186.1L472.0 183.8Z"/><path d="M476.4 182.5L478.7 184.8L476.4 187.1L474.1 184.8Z"/><path d="M478.9 180.4L481.2 182.7L478.9 185.0L476.6 182.7Z"/><path d="M480.4 182.5L482.7 184.8L480.4 187.1L478.1 184.8Z"/><path d="M483.5 179.9L485.8 182.2L483.5 184.5L481.2 182.2Z"/><path d="M487.1 183.0L489.4 185.3L487.1 187.6L484.8 185.3Z"/><path d="M492.2 183.0L494.5 185.3L492.2 187.6L489.9 185.3Z"/><path d="M496.8 184.5L499.1 186.8L496.8 189.1L494.5 186.8Z"/><path d="M501.4 183.5L503.7 185.8L501.4 188.1L499.1 185.8Z"/><path d="M508.5 183.0L510.8 185.3L508.5 187.6L506.2 185.3Z"/><path d="M514.7 185.0L517.0 187.3L514.7 189.6L512.4 187.3Z"/><path d="M519.3 182.5L521.6 184.8L519.3 187.1L517.0 184.8Z"/><path d="M527.4 183.5L529.7 185.8L527.4 188.1L525.1 185.8Z"/><path d="M531.3 183.3L533.6 185.6L531.3 187.9L529.0 185.6Z"/><path d="M535.6 183.3L537.9 185.6L535.6 187.9L533.3 185.6Z"/><path d="M541.2 184.3L543.5 186.6L541.2 188.9L538.9 186.6Z"/><path d="M546.5 183.9L548.8 186.2L546.5 188.5L544.2 186.2Z"/><path d="M552.3 184.3L554.6 186.6L552.3 188.9L550.0 186.6Z"/><path d="M556.8 182.8L559.1 185.1L556.8 187.4L554.5 185.1Z"/><path d="M562.5 183.3L564.8 185.6L562.5 187.9L560.2 185.6Z"/><path d="M566.3 183.9L568.6 186.2L566.3 188.5L564.0 186.2Z"/><path d="M570.8 184.3L573.1 186.6L570.8 188.9L568.5 186.6Z"/><path d="M576.2 183.9L578.5 186.2L576.2 188.5L573.9 186.2Z"/><path d="M585.2 183.7L587.5 186.0L585.2 188.3L582.9 186.0Z"/><path d="M594.1 184.3L596.4 186.6L594.1 188.9L591.8 186.6Z"/><path d="M603.2 184.3L605.5 186.6L603.2 188.9L600.9 186.6Z"/><path d="M613.1 183.2L615.4 185.5L613.1 187.8L610.8 185.5Z"/><path d="M617.2 183.2L619.5 185.5L617.2 187.8L614.9 185.5Z"/><path d="M620.7 185.1L623.0 187.4L620.7 189.7L618.4 187.4Z"/><path d="M629.4 185.1L631.7 187.4L629.4 189.7L627.1 187.4Z"/><path d="M635.2 183.2L637.5 185.5L635.2 187.8L632.9 185.5Z"/><path d="M639.0 184.3L641.3 186.6L639.0 188.9L636.7 186.6Z"/><path d="M644.3 185.1L646.6 187.4L644.3 189.7L642.0 187.4Z"/><path d="M648.5 185.1L650.8 187.4L648.5 189.7L646.2 187.4Z"/><path d="M654.9 184.3L657.2 186.6L654.9 188.9L652.6 186.6Z"/><path d="M661.7 183.2L664.0 185.5L661.7 187.8L659.4 185.5Z"/><path d="M667.1 184.3L669.4 186.6L667.1 188.9L664.8 186.6Z"/></g>
<g stroke-width="1.2" fill="none"><path d="M586.7 16H614.2" stroke="#000"/><path d="M586.7 29.7H614.2" stroke="#00f"/><path d="M586.7 43.6H614.2" stroke="#f00"/></g>
<circle cx="600.45" cy="29.7" r="2.1" fill="#00f"/>
<g fill="#fff" stroke="#f00" stroke-width="0.7"><path d="M600.5 41.2L602.9 43.6L600.5 46.0L598.1 43.6Z"/></g>
<g font-size="11.6">
<text x="621.4" y="19.9">CASE1</text>
<text x="621.4" y="33.6">CASE2</text>
<text x="621.4" y="47.5">CASE3</text>
</g>
<text x="19.8" y="256.7" font-size="22.03">(a) Displacement time history</text>
<text x="356.2" y="256.7" font-size="22">(b) Fourier spectrum of displacement</text>
</svg></body></html>
